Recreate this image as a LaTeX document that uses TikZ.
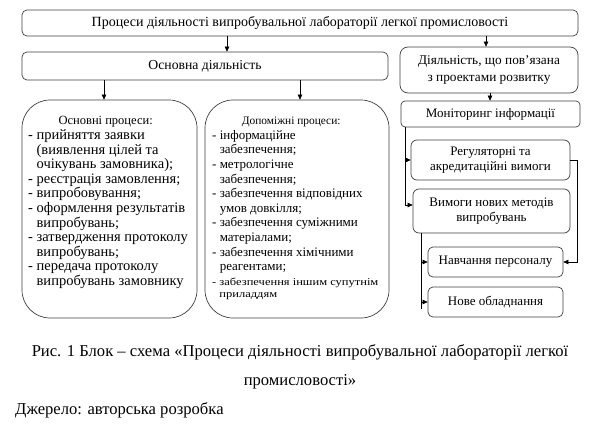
\documentclass[tikz,border=0pt]{standalone}
\usepackage{fontspec}
\usepackage{graphicx}
\setmainfont{Liberation Serif}
\usetikzlibrary{arrows.meta,calc}
\begin{document}
\begin{tikzpicture}[x=1pt,y=-1pt,
  box/.style={draw=black!75, line width=0.7pt, rounded corners=5pt, inner sep=0pt, align=center, font=\fontsize{13}{14.6}\selectfont},
  bigbox/.style={draw=black!75, line width=0.7pt, rounded corners=28pt, inner sep=0pt},
  arr/.style={line width=0.6pt, -{Triangle[length=5pt,width=4.5pt]}},
  lst/.style={align=left, inner sep=0pt, anchor=north west},
  captxt/.style={inner sep=0pt, font=\fontsize{16.6}{20}\selectfont}
]
\useasboundingbox[fill=white] (0,0) rectangle (600,428);

% boxes
\node[box, minimum width=556pt, minimum height=26pt, font=\fontsize{14}{16}\selectfont] (top) at (300,23) {Процеси діяльності випробувальної лабораторії легкої промисловості};
\node[box, minimum width=366pt, minimum height=28pt, font=\fontsize{13.7}{16}\selectfont] (main) at (205,66) {Основна діяльність};
\node[box, minimum width=178pt, minimum height=46pt, rounded corners=8pt, font=\fontsize{13.3}{16.5}\selectfont] (dev) at (489,70) {Діяльність, що пов’язана\\з проектами розвитку};
\node[bigbox, minimum width=175pt, minimum height=218pt] (left) at (109.5,209) {};
\node[bigbox, minimum width=184pt, minimum height=218pt] (mid) at (297,209) {};
\node[box, minimum width=179pt, minimum height=26pt, rounded corners=4pt] (mon) at (490.5,114) {Моніторинг інформації};
\node[box, minimum width=159pt, minimum height=40pt, rounded corners=6pt] (reg) at (490.5,160) {Регуляторні та\\акредитаційні вимоги};
\node[box, minimum width=157pt, minimum height=44pt, rounded corners=6pt] (vym) at (491.5,211) {Вимоги нових методів\\випробувань};
\node[box, minimum width=135pt, minimum height=30pt] (nav) at (495.5,262) {Навчання персоналу};
\node[box, minimum width=135pt, minimum height=30pt] (nove) at (495.5,302) {Нове обладнання};

% list texts
\node[lst, font=\fontsize{14.5}{14.6}\selectfont] (ltext) at (28,116.5) {\makebox[155pt][c]{\fontsize{12.5}{14.6}\selectfont Основні процеси:}\\
- прийняття заявки\\
\hphantom{- }(виявлення цілей та\\
\hphantom{- }очікувань замовника);\\
- реєстрація замовлення;\\
- випробовування;\\
- оформлення результатів\\
\hphantom{- }випробувань;\\
- затвердження протоколу\\
\hphantom{- }випробувань;\\
- передача протоколу\\
\hphantom{- }випробувань замовнику};

\node[lst, font=\fontsize{13}{14.6}\selectfont] (mtext) at (212,117) {\makebox[158pt][c]{\fontsize{11.4}{14.6}\selectfont Допоміжні процеси:}\\
- інформаційне\\
\hphantom{- }забезпечення;\\
- метрологічне\\
\hphantom{- }забезпечення;\\
- забезпечення відповідних\\
\hphantom{- }умов довкілля;\\
- забезпечення суміжними\\
\hphantom{- }матеріалами;\\
- забезпечення хімічними\\
\hphantom{- }реагентами;\\
{\fontsize{10.5}{12}\selectfont\scalebox{1.19}[1]{- забезпечення іншим супутнім}}\\[-2pt]
{\fontsize{10.5}{12}\selectfont\scalebox{1.19}[1]{\hphantom{- }приладдям}}};

% helper coordinates
\coordinate (xa) at (227,0);
\coordinate (xb) at (486,0);
\coordinate (xc) at (104,0);
\coordinate (xd) at (300,0);
\coordinate (xe) at (490,0);
\coordinate (xl1) at (405,0);
\coordinate (xr1) at (577,0);
\coordinate (xl2) at (421,0);

% connectors
\draw[arr] (top.south -| xa) -- (main.north -| xa);
\draw[arr] (top.south -| xb) -- (dev.north -| xb);
\draw[arr] (main.south -| xc) -- (left.north -| xc);
\draw[arr] (main.south -| xd) -- (mid.north -| xd);
\draw[arr] (dev.south -| xe) -- (mon.north -| xe);
\draw[arr] (mon.south -| xl1) |- (reg.west);
\draw[arr] (mon.south -| xl1) |- ($(vym.west)+(0,-6)$);
\draw[arr] (reg.east) -- (reg.east -| xr1) |- (nav.east);
\draw[arr] (vym.south -| xl2) |- (nav.west);
\draw[arr] (vym.south -| xl2) |- (nove.west);
\draw[line width=0.6pt] (nove.west -| xl2) -- ++(0,7);

% caption
\node[captxt] (cap1) at (300,352) {Рис. 1 Блок – схема «Процеси діяльності випробувальної лабораторії легкої};
\node[captxt] (cap2) at (300,382) {промисловості»};
\node[captxt, anchor=west] (src) at (15,410) {Джерело: авторська розробка};
\end{tikzpicture}
\end{document}
